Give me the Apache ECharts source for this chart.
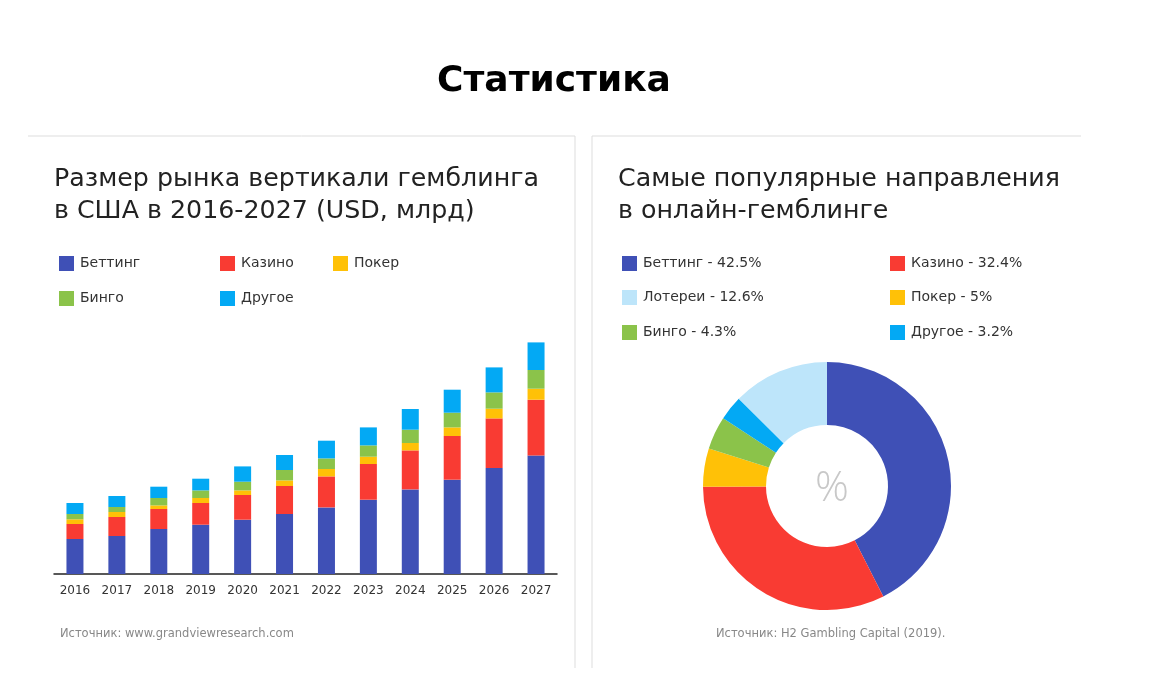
<!DOCTYPE html>
<html><head><meta charset="utf-8">
<script src="https://cdn.jsdelivr.net/npm/echarts@6/dist/echarts.min.js"></script>
<style>html,body{margin:0;padding:0;background:#fff;}#c{width:1159px;height:683px;}</style>
</head><body><div id="c"></div>
<script>
const years = ['2016','2017','2018','2019','2020','2021','2022','2023','2024','2025','2026','2027'];
const betting = [3.5,3.8,4.5,4.93,5.43,6.0,6.66,7.43,8.46,9.43,10.6,11.86];
const casino  = [1.5,1.9,2.0,2.17,2.47,2.8,3.1,3.57,3.9,4.37,4.96,5.57];
const poker   = [0.47,0.5,0.36,0.5,0.46,0.56,0.74,0.73,0.74,0.86,0.97,1.1];
const bingo   = [0.53,0.5,0.74,0.76,0.87,1.04,1.06,1.13,1.33,1.47,1.63,1.87];
const other   = [1.1,1.1,1.13,1.17,1.53,1.5,1.77,1.8,2.07,2.3,2.5,2.76];
const pieNames = ['Беттинг','Казино','Покер','Бинго','Другое','Лотереи'];
const pieValues = [42.5,32.4,5,4.3,3.2,12.6];

const FONT = 'DejaVu Sans, sans-serif';
const C = {'Беттинг':'#3F50B6','Казино':'#F93B33','Покер':'#FFC107','Бинго':'#8BC34A','Другое':'#03A9F4','Лотереи':'#BDE5FA'};
const chart = echarts.init(document.getElementById('c'));

const barSeries = [['Беттинг',betting],['Казино',casino],['Покер',poker],['Бинго',bingo],['Другое',other]].map(([n,d])=>({
  name:n, type:'bar', stack:'s', data:d, barWidth:17, itemStyle:{color:C[n]}, animation:false
}));

function leg(name, left, top, fmt){
  return {data:[name], left:left, top:top, itemWidth:15, itemHeight:15, icon:'rect', selectedMode:false,
    textStyle:{fontFamily:FONT, fontSize:14, color:'#333', padding:[0,0,0,1]}, formatter:fmt||undefined};
}
const pieMap = {}; pieNames.forEach((n,i)=>pieMap[n]=pieValues[i]);
const pf = n => n + ' - ' + pieMap[n] + '%';

chart.setOption({
  animation:false,
  title:[
    {text:'Статистика', left:549, top:59, textAlign:'center', textStyle:{fontFamily:FONT, fontSize:36, fontWeight:'bold', color:'#000'}},
    {text:'Размер рынка вертикали гемблинга\nв США в 2016-2027 (USD, млрд)', left:49, top:158, textStyle:{fontFamily:FONT, fontSize:25.3, fontWeight:'normal', color:'#222', lineHeight:32}},
    {text:'Самые популярные направления\nв онлайн-гемблинге', left:613, top:158, textStyle:{fontFamily:FONT, fontSize:25.3, fontWeight:'normal', color:'#222', lineHeight:32}},
    {text:'Источник: www.grandviewresearch.com', left:55, top:623, textStyle:{fontFamily:FONT, fontSize:11.5, fontWeight:'normal', color:'#888'}},
    {text:'Источник: H2 Gambling Capital (2019).', left:711, top:623, textStyle:{fontFamily:FONT, fontSize:11.5, fontWeight:'normal', color:'#888'}},
    {text:'%', left:827, top:463, textAlign:'center', textStyle:{fontFamily:'Open Sans, sans-serif', fontSize:42, fontWeight:300, color:'#c8c8c8'}}
  ],
  legend:[
    leg('Беттинг',54,251), leg('Казино',215,251), leg('Покер',328,251),
    leg('Бинго',54,286), leg('Другое',215,286),
    leg('Беттинг',617,251,pf), leg('Казино',885,251,pf),
    leg('Лотереи',617,285,pf), leg('Покер',885,285,pf),
    leg('Бинго',617,320,pf), leg('Другое',885,320,pf)
  ],
  grid:{left:54, width:503, top:324, height:250},
  xAxis:{type:'category', data:years, boundaryGap:true,
    axisLine:{lineStyle:{color:'#222', width:1.5}}, axisTick:{show:false},
    axisLabel:{fontFamily:FONT, fontSize:12, color:'#333', margin:11}},
  yAxis:{type:'value', min:0, max:25, show:false, splitLine:{show:false}},
  series:[...barSeries,
    {type:'pie', center:[827,486], radius:[61,124], startAngle:90, clockwise:true, label:{show:false}, labelLine:{show:false},
     silent:true, animation:false,
     data:pieNames.map((n,i)=>({name:n, value:pieValues[i], itemStyle:{color:C[n]}}))}
  ],
  graphic:[
    {type:'line', shape:{x1:28,y1:136,x2:575,y2:136}, style:{stroke:'#ddd', lineWidth:1}},
    {type:'line', shape:{x1:575,y1:136,x2:575,y2:668}, style:{stroke:'#ddd', lineWidth:1}},
    {type:'line', shape:{x1:592,y1:136,x2:1081,y2:136}, style:{stroke:'#ddd', lineWidth:1}},
    {type:'line', shape:{x1:592,y1:136,x2:592,y2:668}, style:{stroke:'#ddd', lineWidth:1}}
  ]
});
</script></body></html>
